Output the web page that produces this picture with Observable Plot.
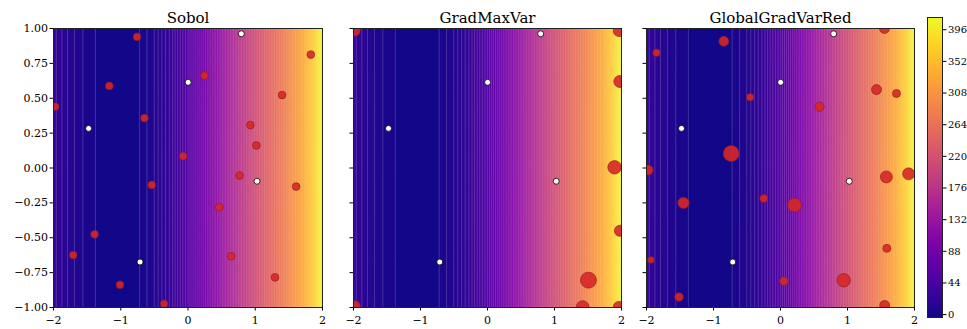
<!DOCTYPE html>
<html>
<head>
<meta charset="utf-8">
<script src="https://cdn.jsdelivr.net/npm/d3@7"></script>
<script src="https://cdn.jsdelivr.net/npm/@observablehq/plot@0.6"></script>
<style>
  html, body { margin: 0; padding: 0; background: #fff; }
  #chart { position: relative; width: 967px; height: 329px; overflow: hidden; font-family: "DejaVu Serif", serif; }
  #chart svg { position: absolute; top: 0; max-width: none; }
</style>
</head>
<body>
<div id="chart"></div>
<script>
const gridX = [-2, -1.75, -1.5, -1.25, -1, -0.75, -0.5, -0.25, 0, 0.25, 0.5, 0.75, 1, 1.25, 1.5, 1.75, 1.875, 2];
const gridV = [26, 14, 6, 2, 1, 3, 12, 30, 56, 90, 130, 172, 214, 254, 294, 340, 372, 412];
const gridY = [-1, 1];

// ---- initial design (white points, identical in every panel) ----
const initX = [0.793, 0.002, -1.478, 1.026, -0.713];
const initY = [0.962, 0.614, 0.284, -0.095, -0.674];

// ---- panel titles ----
const titles = ["Sobol", "GradMaxVar", "GlobalGradVarRed"];

// ---- Sobol points ----
const sobolX = [-0.758, 1.826, 0.246, -1.170, 1.399, -1.975, -0.648, 0.927, 1.016, -0.072, 0.768, -0.539, 1.608, 0.465, -1.389, -1.707, 0.643, 1.294, -1.011, -0.355];
const sobolY = [0.940, 0.813, 0.662, 0.588, 0.523, 0.440, 0.358, 0.308, 0.162, 0.085, -0.054, -0.121, -0.133, -0.281, -0.475, -0.624, -0.633, -0.784, -0.837, -0.974];
const sobolS = [60, 60, 60, 60, 60, 60, 60, 60, 60, 60, 60, 60, 60, 60, 60, 60, 60, 60, 60, 60];

// ---- GradMaxVar points ----
const gmvX = [-1.98, 1.965, 1.975, 1.896, 1.975, 1.507, 1.42, 1.96, -1.98];
const gmvY = [0.985, 0.985, 0.62, 0.005, -0.45, -0.804, -0.996, -0.996, -0.99];
const gmvS = [121, 144, 144, 180, 121, 256, 159, 121, 121];

// ---- GlobalGradVarRed points ----
const ggvrX = [1.552, -0.846, -1.851, 1.433, 1.731, -0.453, 0.582, -0.736, -1.975, 1.580, 1.912, -0.249, -1.448, 0.209, 1.587, -1.933, -1.515, 0.050, 0.943, 1.555];
const ggvrY = [1.0, 0.908, 0.826, 0.562, 0.534, 0.508, 0.439, 0.104, -0.015, -0.064, -0.042, -0.218, -0.250, -0.265, -0.576, -0.659, -0.925, -0.811, -0.805, -0.985];
const ggvrS = [100, 100, 55, 100, 64, 55, 88, 256, 100, 144, 144, 64, 130, 196, 64, 44, 74, 74, 180, 100];

// ---- ticks ----
const xTicks = [-2, -1, 0, 1, 2];
const yTicks = [-1, -0.75, -0.5, -0.25, 0, 0.25, 0.5, 0.75, 1];
const cbTicks = [0, 44, 88, 132, 176, 220, 264, 308, 352, 396];
const colorDomain = [-4, 413];
const levels = d3.range(-4, 414, 4);

// build tables from the arrays
const field = gridY.flatMap(y => gridX.map((x, i) => ({x, y, v: gridV[i]})));
const init = initX.map((x, i) => ({x, y: initY[i]}));
const zipPts = (X, Y, S) => X.map((x, i) => ({x, y: Y[i], s: S[i]}));
const panelPoints = [zipPts(sobolX, sobolY, sobolS), zipPts(gmvX, gmvY, gmvS), zipPts(ggvrX, ggvrY, ggvrS)];

const frames = [
  {left: 53, width: 269},
  {left: 353, width: 268},
  {left: 646, width: 268}
];
const mT = 28, mB = 22, H = 329, mL = 50, mR = 8;
const fontFamily = "'DejaVu Serif', serif";
const chart = document.getElementById("chart");

titles.forEach((title, k) => {
  const f = frames[k];
  const showY = k === 0;
  const svg = Plot.plot({
    width: f.width + mL + mR,
    height: H,
    marginLeft: mL, marginRight: mR, marginTop: mT, marginBottom: mB,
    x: {domain: [-2, 2]},
    y: {domain: [-1, 1]},
    color: {type: "linear", scheme: "plasma", domain: colorDomain},
    r: {type: "sqrt", domain: [0, 256], range: [0, 8]},
    style: {fontFamily, fontSize: "11px", color: "#000", background: "transparent", overflow: "visible"},
    marks: [
      Plot.contour(field, {x: "x", y: "y", fill: "v", interpolate: "barycentric", thresholds: levels,
        stroke: "white", strokeOpacity: 0.3, strokeWidth: 0.6}),
      Plot.dot(panelPoints[k], {x: "x", y: "y", r: "s", fill: "#d62728", fillOpacity: 0.9,
        stroke: "#8b1a1a", strokeWidth: 0.6, clip: true}),
      Plot.dot(init, {x: "x", y: "y", r: 3, fill: "white", stroke: "black", strokeWidth: 0.8, clip: true}),
      Plot.frame({stroke: "#222", strokeWidth: 1}),
      Plot.axisX({ticks: xTicks, tickFormat: d3.format("d"), tickSize: 3.5, tickPadding: 5, fontSize: 11, label: null}),
      Plot.axisY({ticks: yTicks, tickFormat: showY ? d3.format(".2f") : () => "", tickSize: 3.5, tickPadding: 2, fontSize: 11, label: null}),
      Plot.text([title], {frameAnchor: "top", lineAnchor: "bottom", dy: -6, fontSize: 15, fill: "#000"})
    ]
  });
  svg.style.left = (f.left - mL) + "px";
  chart.appendChild(svg);
});

// colour bar
const cb = Plot.plot({
  width: 45, height: H,
  marginLeft: 0, marginRight: 30, marginTop: 17, marginBottom: 12,
  x: {domain: [0, 1], axis: null},
  y: {domain: colorDomain},
  color: {type: "linear", scheme: "plasma", domain: colorDomain},
  style: {fontFamily, fontSize: "10px", color: "#000", background: "transparent", overflow: "visible"},
  marks: [
    Plot.raster({fill: (x, y) => y, x1: 0, x2: 1, y1: colorDomain[0], y2: colorDomain[1], pixelSize: 1}),
    Plot.frame({stroke: "#222", strokeWidth: 1}),
    Plot.axisY({anchor: "right", ticks: cbTicks, tickFormat: d3.format("d"), tickSize: 3.5, tickPadding: 2, fontSize: 10, label: null})
  ]
});
cb.style.left = "927px";
chart.appendChild(cb);
</script>
</body>
</html>
